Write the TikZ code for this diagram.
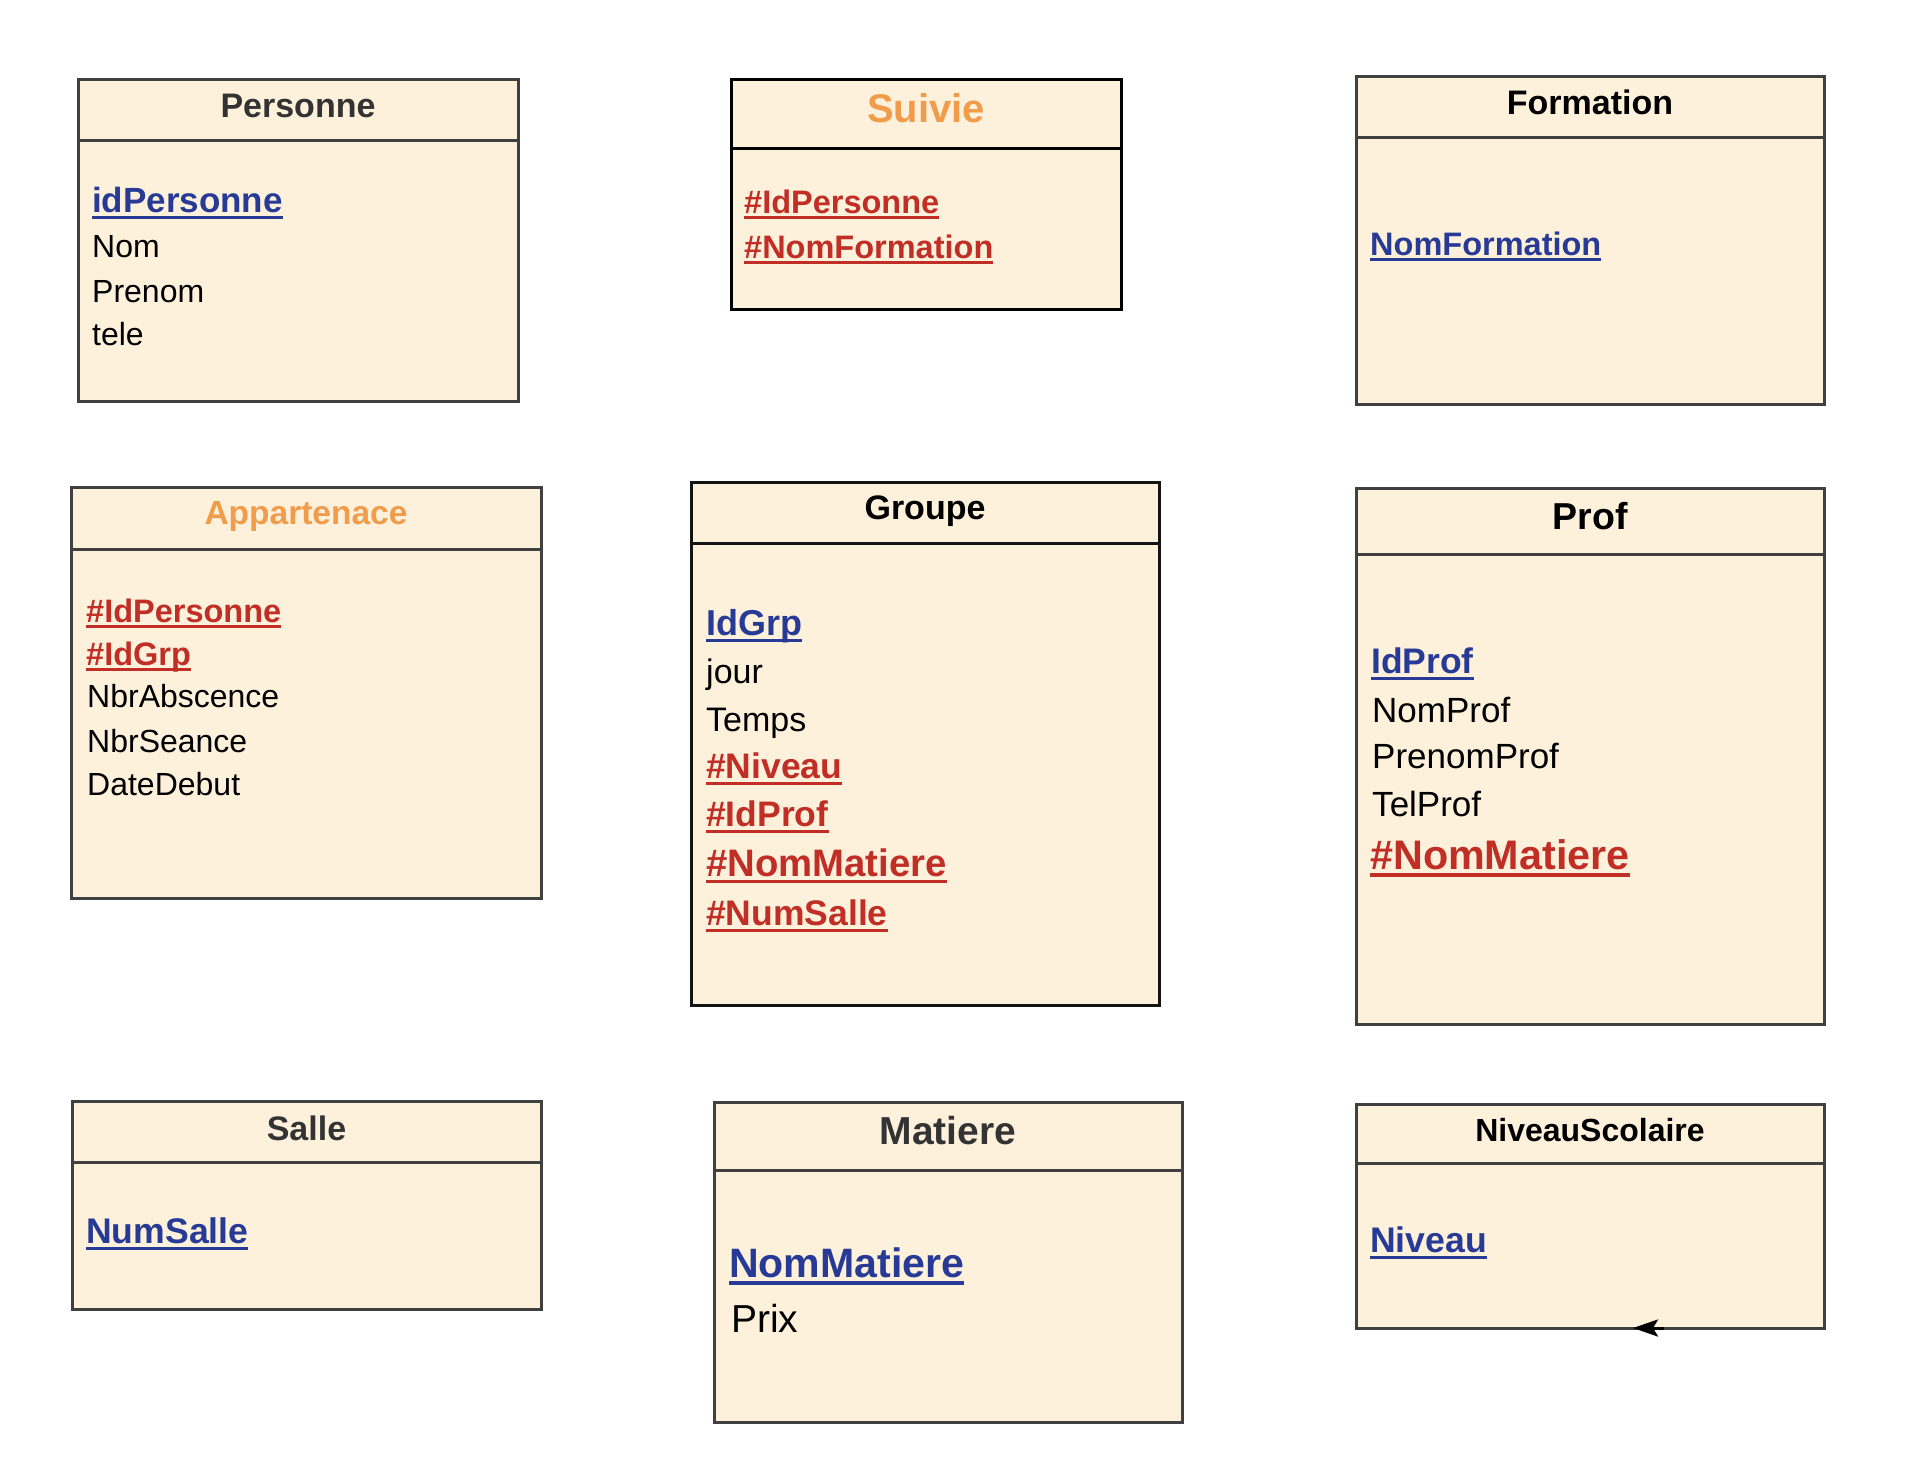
\documentclass[tikz,border=0pt]{standalone}
\usepackage{fontspec}
\setmainfont{Liberation Sans}
\usetikzlibrary{arrows.meta}
\definecolor{entfill}{RGB}{253,241,219}
\definecolor{entdraw}{RGB}{64,64,64}
\definecolor{keyblue}{RGB}{38,58,150}
\definecolor{keyred}{RGB}{192,46,38}
\definecolor{ttlorange}{RGB}{240,156,74}
\definecolor{ttlgray}{RGB}{51,51,51}
\newsavebox\ulbox
\newcommand\ulk[1]{\sbox\ulbox{#1}\rlap{\rule[-0.19em]{\wd\ulbox}{0.09em}}\usebox\ulbox}
\begin{document}
\begin{tikzpicture}[x=1pt,y=-1pt,
  entbox/.style={fill=entfill,draw=#1,line width=3pt},
  entbox/.default=entdraw,
  entline/.style={draw=#1,line width=3pt},
  entline/.default=entdraw,
  ttl/.style={anchor=base,inner sep=0pt,font=\fontsize{#1}{#1}\selectfont\bfseries},
  att/.style={anchor=base west,inner sep=0pt,text=black,font=\fontsize{#1}{#1}\selectfont},
  pk/.style={anchor=base west,inner sep=0pt,text=keyblue,font=\fontsize{#1}{#1}\selectfont\bfseries},
  fk/.style={anchor=base west,inner sep=0pt,text=keyred,font=\fontsize{#1}{#1}\selectfont\bfseries},
  conn/.style={draw=black,line width=3pt,-{Stealth[length=25pt,width=17pt,inset=5pt]}}]
\useasboundingbox (0,0) rectangle (1926,1472);

% Personne
\draw[entbox] (78,79) rectangle (518,401);
\draw[entline] (78,140) -- (518,140);
\node[ttl=34,text=ttlgray] (personneT) at (298,117) {Personne};
\node[pk=35] (personneK) at (92,212) {\ulk{idPersonne}};
\node[att=32] (personneA1) at (92,257) {Nom};
\node[att=32] (personneA2) at (92,302) {Prenom};
\node[att=32] (personneA3) at (92,345) {tele};

% Suivie
\draw[entbox=black] (731,79) rectangle (1121,309);
\draw[entline=black] (731,148.5) -- (1121,148.5);
\node[ttl=40,text=ttlorange] (suivieT) at (926,122) {Suivie};
\node[fk=32.5] (suivieK1) at (744,213) {\ulk{\#IdPersonne}};
\node[fk=32.5] (suivieK2) at (744,258) {\ulk{\#NomFormation}};

% Formation
\draw[entbox] (1356,76) rectangle (1824,404);
\draw[entline] (1356,137) -- (1824,137);
\node[ttl=34,text=black] (formationT) at (1590,114) {Formation};
\node[pk=32.5] (formationK) at (1370,255) {\ulk{NomFormation}};

% Appartenace
\draw[entbox] (71,487) rectangle (541,898);
\draw[entline] (71,549) -- (541,549);
\node[ttl=33.5,text=ttlorange] (appT) at (306,524) {Appartenace};
\node[fk=32.5] (appK1) at (86,622) {\ulk{\#IdPersonne}};
\node[fk=32.5] (appK2) at (86,665) {\ulk{\#IdGrp}};
\node[att=32] (appA1) at (87,707) {NbrAbscence};
\node[att=32] (appA2) at (87,752) {NbrSeance};
\node[att=32] (appA3) at (87,795) {DateDebut};

% Groupe
\draw[entbox=black!92] (691,482) rectangle (1159,1005);
\draw[entline=black!92] (691,543) -- (1159,543);
\node[ttl=34,text=black] (groupeT) at (925,519) {Groupe};
\node[pk=36] (groupeK) at (706,635) {\ulk{IdGrp}};
\node[att=34] (groupeA1) at (706,683) {jour};
\node[att=34] (groupeA2) at (706,731) {Temps};
\node[fk=35.5] (groupeF1) at (706,778) {\ulk{\#Niveau}};
\node[fk=35.5] (groupeF2) at (706,826) {\ulk{\#IdProf}};
\node[fk=38.3] (groupeF3) at (706,876) {\ulk{\#NomMatiere}};
\node[fk=35.5] (groupeF4) at (706,925) {\ulk{\#NumSalle}};

% Prof
\draw[entbox] (1356,488) rectangle (1824,1024);
\draw[entline] (1356,554) -- (1824,554);
\node[ttl=37.5,text=black] (profT) at (1590,529) {Prof};
\node[pk=35.5] (profK) at (1371,673) {\ulk{IdProf}};
\node[att=35] (profA1) at (1372,722) {NomProf};
\node[att=35] (profA2) at (1372,768) {PrenomProf};
\node[att=35] (profA3) at (1372,816) {TelProf};
\node[fk=41.3] (profF1) at (1370,869) {\ulk{\#NomMatiere}};

% Salle
\draw[entbox] (72,1101) rectangle (541,1309);
\draw[entline] (72,1162) -- (541,1162);
\node[ttl=34,text=ttlgray] (salleT) at (306.5,1140) {Salle};
\node[pk=35.6] (salleK) at (86,1243) {\ulk{NumSalle}};

% Matiere
\draw[entbox] (714,1102) rectangle (1182,1422);
\draw[entline] (714,1170) -- (1182,1170);
\node[ttl=39,text=ttlgray] (matiereT) at (948,1144) {Matiere};
\node[pk=41.1] (matiereK) at (729,1277) {\ulk{NomMatiere}};
\node[att=39] (matiereA1) at (731,1332) {Prix};

% NiveauScolaire
\draw[entbox] (1356,1104) rectangle (1824,1328);
\draw[entline] (1356,1163) -- (1824,1163);
\node[ttl=32,text=black] (niveauT) at (1590,1141) {NiveauScolaire};
\node[pk=35.6] (niveauK) at (1370,1252) {\ulk{Niveau}};

% small arrow on bottom edge
\coordinate (arrS) at (1664,1328);
\coordinate (arrE) at (1633,1328);
\draw[conn] (arrS) -- (arrE);
\end{tikzpicture}
\end{document}
